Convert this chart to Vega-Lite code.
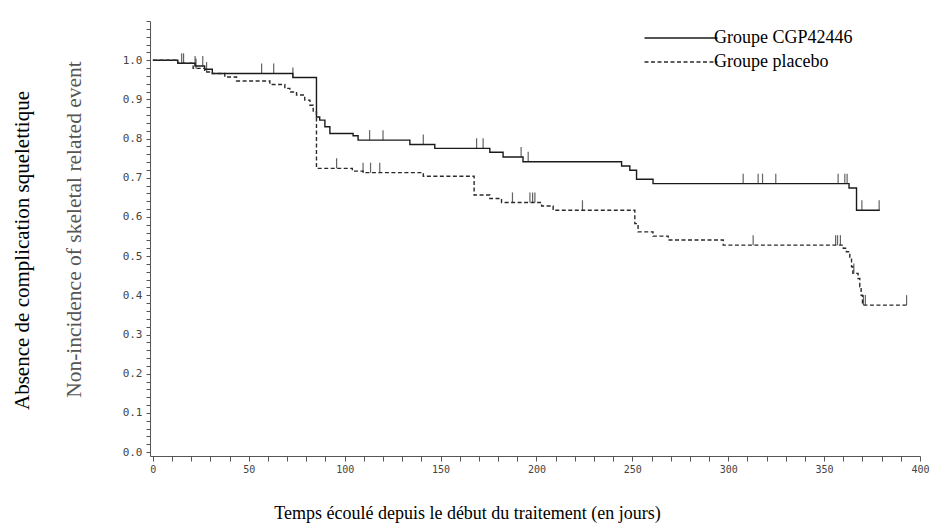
{
  "$schema": "https://vega.github.io/schema/vega-lite/v6.json",
  "width": 770,
  "height": 435,
  "autosize": {"type": "none"},
  "padding": {"left": 150, "top": 21, "right": 13, "bottom": 69},
  "background": "white",
  "config": {"view": {"stroke": null}, "font": "Liberation Serif"},
  "datasets": {
    "curves": [
      {"group": "Groupe CGP42446", "day": 0, "surv": 1.0},
      {"group": "Groupe CGP42446", "day": 13, "surv": 0.992},
      {"group": "Groupe CGP42446", "day": 22, "surv": 0.985},
      {"group": "Groupe CGP42446", "day": 27, "surv": 0.977},
      {"group": "Groupe CGP42446", "day": 31, "surv": 0.966},
      {"group": "Groupe CGP42446", "day": 73, "surv": 0.956},
      {"group": "Groupe CGP42446", "day": 85.3, "surv": 0.855},
      {"group": "Groupe CGP42446", "day": 87, "surv": 0.847},
      {"group": "Groupe CGP42446", "day": 89.7, "surv": 0.83},
      {"group": "Groupe CGP42446", "day": 92.3, "surv": 0.813},
      {"group": "Groupe CGP42446", "day": 104.4, "surv": 0.807},
      {"group": "Groupe CGP42446", "day": 107, "surv": 0.796},
      {"group": "Groupe CGP42446", "day": 134, "surv": 0.785},
      {"group": "Groupe CGP42446", "day": 147, "surv": 0.775},
      {"group": "Groupe CGP42446", "day": 175.7, "surv": 0.765},
      {"group": "Groupe CGP42446", "day": 182.6, "surv": 0.753},
      {"group": "Groupe CGP42446", "day": 193, "surv": 0.741},
      {"group": "Groupe CGP42446", "day": 244.4, "surv": 0.73},
      {"group": "Groupe CGP42446", "day": 248.7, "surv": 0.719},
      {"group": "Groupe CGP42446", "day": 252.2, "surv": 0.696},
      {"group": "Groupe CGP42446", "day": 260.8, "surv": 0.685},
      {"group": "Groupe CGP42446", "day": 363, "surv": 0.674},
      {"group": "Groupe CGP42446", "day": 366.9, "surv": 0.617},
      {"group": "Groupe CGP42446", "day": 379, "surv": 0.617},
      {"group": "Groupe placebo", "day": 0, "surv": 1.0},
      {"group": "Groupe placebo", "day": 13, "surv": 0.992},
      {"group": "Groupe placebo", "day": 21, "surv": 0.979},
      {"group": "Groupe placebo", "day": 27, "surv": 0.97},
      {"group": "Groupe placebo", "day": 31, "surv": 0.966},
      {"group": "Groupe placebo", "day": 37.5, "surv": 0.957},
      {"group": "Groupe placebo", "day": 43.6, "surv": 0.947},
      {"group": "Groupe placebo", "day": 61, "surv": 0.938},
      {"group": "Groupe placebo", "day": 68.8, "surv": 0.928},
      {"group": "Groupe placebo", "day": 71.4, "surv": 0.919},
      {"group": "Groupe placebo", "day": 74.9, "surv": 0.911},
      {"group": "Groupe placebo", "day": 79.2, "surv": 0.898},
      {"group": "Groupe placebo", "day": 81.9, "surv": 0.885},
      {"group": "Groupe placebo", "day": 83.6, "surv": 0.868},
      {"group": "Groupe placebo", "day": 85.3, "surv": 0.724},
      {"group": "Groupe placebo", "day": 104, "surv": 0.717},
      {"group": "Groupe placebo", "day": 109.6, "surv": 0.713},
      {"group": "Groupe placebo", "day": 141, "surv": 0.704},
      {"group": "Groupe placebo", "day": 167.5, "surv": 0.656},
      {"group": "Groupe placebo", "day": 175.7, "surv": 0.647},
      {"group": "Groupe placebo", "day": 181.8, "surv": 0.637},
      {"group": "Groupe placebo", "day": 202.7, "surv": 0.628},
      {"group": "Groupe placebo", "day": 208.7, "surv": 0.617},
      {"group": "Groupe placebo", "day": 251.3, "surv": 0.583},
      {"group": "Groupe placebo", "day": 253, "surv": 0.562},
      {"group": "Groupe placebo", "day": 260.8, "surv": 0.551},
      {"group": "Groupe placebo", "day": 268.7, "surv": 0.541},
      {"group": "Groupe placebo", "day": 297.4, "surv": 0.528},
      {"group": "Groupe placebo", "day": 360, "surv": 0.52},
      {"group": "Groupe placebo", "day": 361.6, "surv": 0.511},
      {"group": "Groupe placebo", "day": 363.4, "surv": 0.494},
      {"group": "Groupe placebo", "day": 364.3, "surv": 0.473},
      {"group": "Groupe placebo", "day": 365, "surv": 0.456},
      {"group": "Groupe placebo", "day": 367.7, "surv": 0.443},
      {"group": "Groupe placebo", "day": 368.6, "surv": 0.422},
      {"group": "Groupe placebo", "day": 369.3, "surv": 0.4},
      {"group": "Groupe placebo", "day": 370, "surv": 0.375},
      {"group": "Groupe placebo", "day": 393, "surv": 0.375}
    ],
    "censor": [
      {"group": "Groupe CGP42446", "day": 15, "surv": 0.992},
      {"group": "Groupe CGP42446", "day": 22, "surv": 0.985},
      {"group": "Groupe CGP42446", "day": 26, "surv": 0.985},
      {"group": "Groupe CGP42446", "day": 56.7, "surv": 0.966},
      {"group": "Groupe CGP42446", "day": 63, "surv": 0.966},
      {"group": "Groupe CGP42446", "day": 73, "surv": 0.956},
      {"group": "Groupe CGP42446", "day": 113, "surv": 0.796},
      {"group": "Groupe CGP42446", "day": 120, "surv": 0.796},
      {"group": "Groupe CGP42446", "day": 141, "surv": 0.785},
      {"group": "Groupe CGP42446", "day": 168.8, "surv": 0.775},
      {"group": "Groupe CGP42446", "day": 172.2, "surv": 0.775},
      {"group": "Groupe CGP42446", "day": 192, "surv": 0.753},
      {"group": "Groupe CGP42446", "day": 195.7, "surv": 0.741},
      {"group": "Groupe CGP42446", "day": 307.8, "surv": 0.685},
      {"group": "Groupe CGP42446", "day": 315.6, "surv": 0.685},
      {"group": "Groupe CGP42446", "day": 317.9, "surv": 0.685},
      {"group": "Groupe CGP42446", "day": 324.8, "surv": 0.685},
      {"group": "Groupe CGP42446", "day": 357.3, "surv": 0.685},
      {"group": "Groupe CGP42446", "day": 360.8, "surv": 0.685},
      {"group": "Groupe CGP42446", "day": 362, "surv": 0.685},
      {"group": "Groupe CGP42446", "day": 369.7, "surv": 0.617},
      {"group": "Groupe CGP42446", "day": 378.7, "surv": 0.617},
      {"group": "Groupe placebo", "day": 16, "surv": 0.992},
      {"group": "Groupe placebo", "day": 22.5, "surv": 0.979},
      {"group": "Groupe placebo", "day": 28, "surv": 0.97},
      {"group": "Groupe placebo", "day": 95.8, "surv": 0.724},
      {"group": "Groupe placebo", "day": 109.6, "surv": 0.713},
      {"group": "Groupe placebo", "day": 113.5, "surv": 0.713},
      {"group": "Groupe placebo", "day": 118.3, "surv": 0.713},
      {"group": "Groupe placebo", "day": 187.5, "surv": 0.637},
      {"group": "Groupe placebo", "day": 196.6, "surv": 0.637},
      {"group": "Groupe placebo", "day": 198, "surv": 0.637},
      {"group": "Groupe placebo", "day": 199.2, "surv": 0.637},
      {"group": "Groupe placebo", "day": 224, "surv": 0.617},
      {"group": "Groupe placebo", "day": 313, "surv": 0.528},
      {"group": "Groupe placebo", "day": 356, "surv": 0.528},
      {"group": "Groupe placebo", "day": 357, "surv": 0.528},
      {"group": "Groupe placebo", "day": 358.5, "surv": 0.528},
      {"group": "Groupe placebo", "day": 365.5, "surv": 0.456},
      {"group": "Groupe placebo", "day": 370.5, "surv": 0.375},
      {"group": "Groupe placebo", "day": 371.5, "surv": 0.375},
      {"group": "Groupe placebo", "day": 393, "surv": 0.375}
    ]
  },
  "resolve": {"scale": {"y": "independent"}, "axis": {"y": "independent"}},
  "layer": [
    {
      "layer": [
        {
          "data": {"name": "curves"},
          "mark": {"type": "line", "interpolate": "step-after", "strokeWidth": 1.4},
          "encoding": {
            "x": {
              "field": "day", "type": "quantitative",
              "scale": {"domain": [-1.5, 400], "nice": false, "zero": false},
              "axis": {
                "title": "Temps écoulé depuis le début du traitement (en jours)",
                "titleFont": "Liberation Serif", "titleFontSize": 18, "titleFontWeight": "normal",
                "titleColor": "#000", "titlePadding": 30, "titleX": 317, "titleAlign": "center",
                "tickCount": 40,
                "labelExpr": "datum.value % 50 == 0 ? datum.label : ''",
                "labelFont": "DejaVu Sans Mono", "labelFontSize": 10, "labelColor": "#444",
                "labelPadding": 3, "labelFlush": false, "labelOverlap": false,
                "tickSize": 5, "tickColor": "#555", "domainColor": "#555", "grid": false
              }
            },
            "y": {
              "field": "surv", "type": "quantitative",
              "scale": {"domain": [-0.01, 1.1], "nice": false, "zero": false},
              "axis": {
                "orient": "left",
                "title": "Non-incidence of skeletal related event",
                "titleFont": "Liberation Serif", "titleFontSize": 21.5, "titleFontWeight": "normal",
                "titleColor": "#555", "titlePadding": 37, "titleY": 208,
                "tickCount": 55,
                "labelExpr": "(round(datum.value*50) % 5 == 0 && datum.value < 1.05) ? format(datum.value, '.1f') : ''",
                "labelFont": "DejaVu Sans Mono", "labelFontSize": 11, "labelColor": "#444",
                "labelPadding": 4, "labelOverlap": false,
                "tickSize": 4, "tickColor": "#555", "domainColor": "#555", "grid": false
              }
            },
            "color": {
              "field": "group", "type": "nominal",
              "scale": {"domain": ["Groupe CGP42446", "Groupe placebo"], "range": ["#1a1a1a", "#2a2a2a"]},
              "legend": {
                "title": null, "orient": "none", "legendX": 522, "legendY": 8,
                "symbolType": "M-10,0H10", "symbolSize": 53.3, "symbolStrokeWidth": 1.3,
                "labelFont": "Liberation Serif", "labelFontSize": 18, "labelColor": "#000",
                "labelOffset": 24, "rowPadding": 6, "padding": 0,
                "encode": {
                  "symbols": {
                    "update": {
                      "stroke": {"signal": "datum.value === 'Groupe placebo' ? '#aaaaaa' : '#111111'"},
                      "strokeDash": {"signal": "datum.value === 'Groupe placebo' ? [5, 3] : [1, 0]"}
                    }
                  }
                }
              }
            },
            "strokeDash": {
              "field": "group", "type": "nominal",
              "scale": {"domain": ["Groupe CGP42446", "Groupe placebo"], "range": [[1, 0], [4, 2.5]]},
              "legend": null
            }
          }
        },
        {
          "data": {"name": "censor"},
          "mark": {"type": "tick", "orient": "vertical", "size": 10, "thickness": 1.2, "yOffset": -5, "color": "#222"},
          "encoding": {
            "x": {
              "field": "day", "type": "quantitative",
              "scale": {"domain": [-1.5, 400], "nice": false, "zero": false},
              "axis": {
                "title": "Temps écoulé depuis le début du traitement (en jours)",
                "titleFont": "Liberation Serif", "titleFontSize": 18, "titleFontWeight": "normal",
                "titleColor": "#000", "titlePadding": 30, "titleX": 317, "titleAlign": "center",
                "tickCount": 40,
                "labelExpr": "datum.value % 50 == 0 ? datum.label : ''",
                "labelFont": "DejaVu Sans Mono", "labelFontSize": 10, "labelColor": "#444",
                "labelPadding": 3, "labelFlush": false, "labelOverlap": false,
                "tickSize": 5, "tickColor": "#555", "domainColor": "#555", "grid": false
              }
            },
            "y": {
              "field": "surv", "type": "quantitative",
              "scale": {"domain": [-0.01, 1.1], "nice": false, "zero": false},
              "axis": {
                "orient": "left",
                "title": "Non-incidence of skeletal related event",
                "titleFont": "Liberation Serif", "titleFontSize": 21.5, "titleFontWeight": "normal",
                "titleColor": "#555", "titlePadding": 37, "titleY": 208,
                "tickCount": 55,
                "labelExpr": "(round(datum.value*50) % 5 == 0 && datum.value < 1.05) ? format(datum.value, '.1f') : ''",
                "labelFont": "DejaVu Sans Mono", "labelFontSize": 11, "labelColor": "#444",
                "labelPadding": 4, "labelOverlap": false,
                "tickSize": 4, "tickColor": "#555", "domainColor": "#555", "grid": false
              }
            }
          }
        }
      ]
    },
    {
      "data": {"name": "censor"},
      "mark": {"type": "point", "opacity": 0},
      "encoding": {
        "x": {
          "field": "day", "type": "quantitative",
          "scale": {"domain": [-1.5, 400], "nice": false, "zero": false},
          "axis": {
            "title": "Temps écoulé depuis le début du traitement (en jours)",
            "titleFont": "Liberation Serif", "titleFontSize": 18, "titleFontWeight": "normal",
            "titleColor": "#000", "titlePadding": 30, "titleX": 317, "titleAlign": "center",
            "tickCount": 40,
            "labelExpr": "datum.value % 50 == 0 ? datum.label : ''",
            "labelFont": "DejaVu Sans Mono", "labelFontSize": 10, "labelColor": "#444",
            "labelPadding": 3, "labelFlush": false, "labelOverlap": false,
            "tickSize": 5, "tickColor": "#555", "domainColor": "#555", "grid": false
          }
        },
        "y": {
          "field": "surv", "type": "quantitative",
          "scale": {"domain": [-0.01, 1.1], "nice": false, "zero": false},
          "axis": {
            "orient": "left",
            "title": "Absence de complication squelettique",
            "titleFont": "Liberation Serif", "titleFontSize": 21, "titleFontWeight": "normal",
            "titleColor": "#000", "titlePadding": 118, "titleY": 229,
            "labels": false, "ticks": false, "domain": false, "grid": false
          }
        }
      }
    }
  ]
}
